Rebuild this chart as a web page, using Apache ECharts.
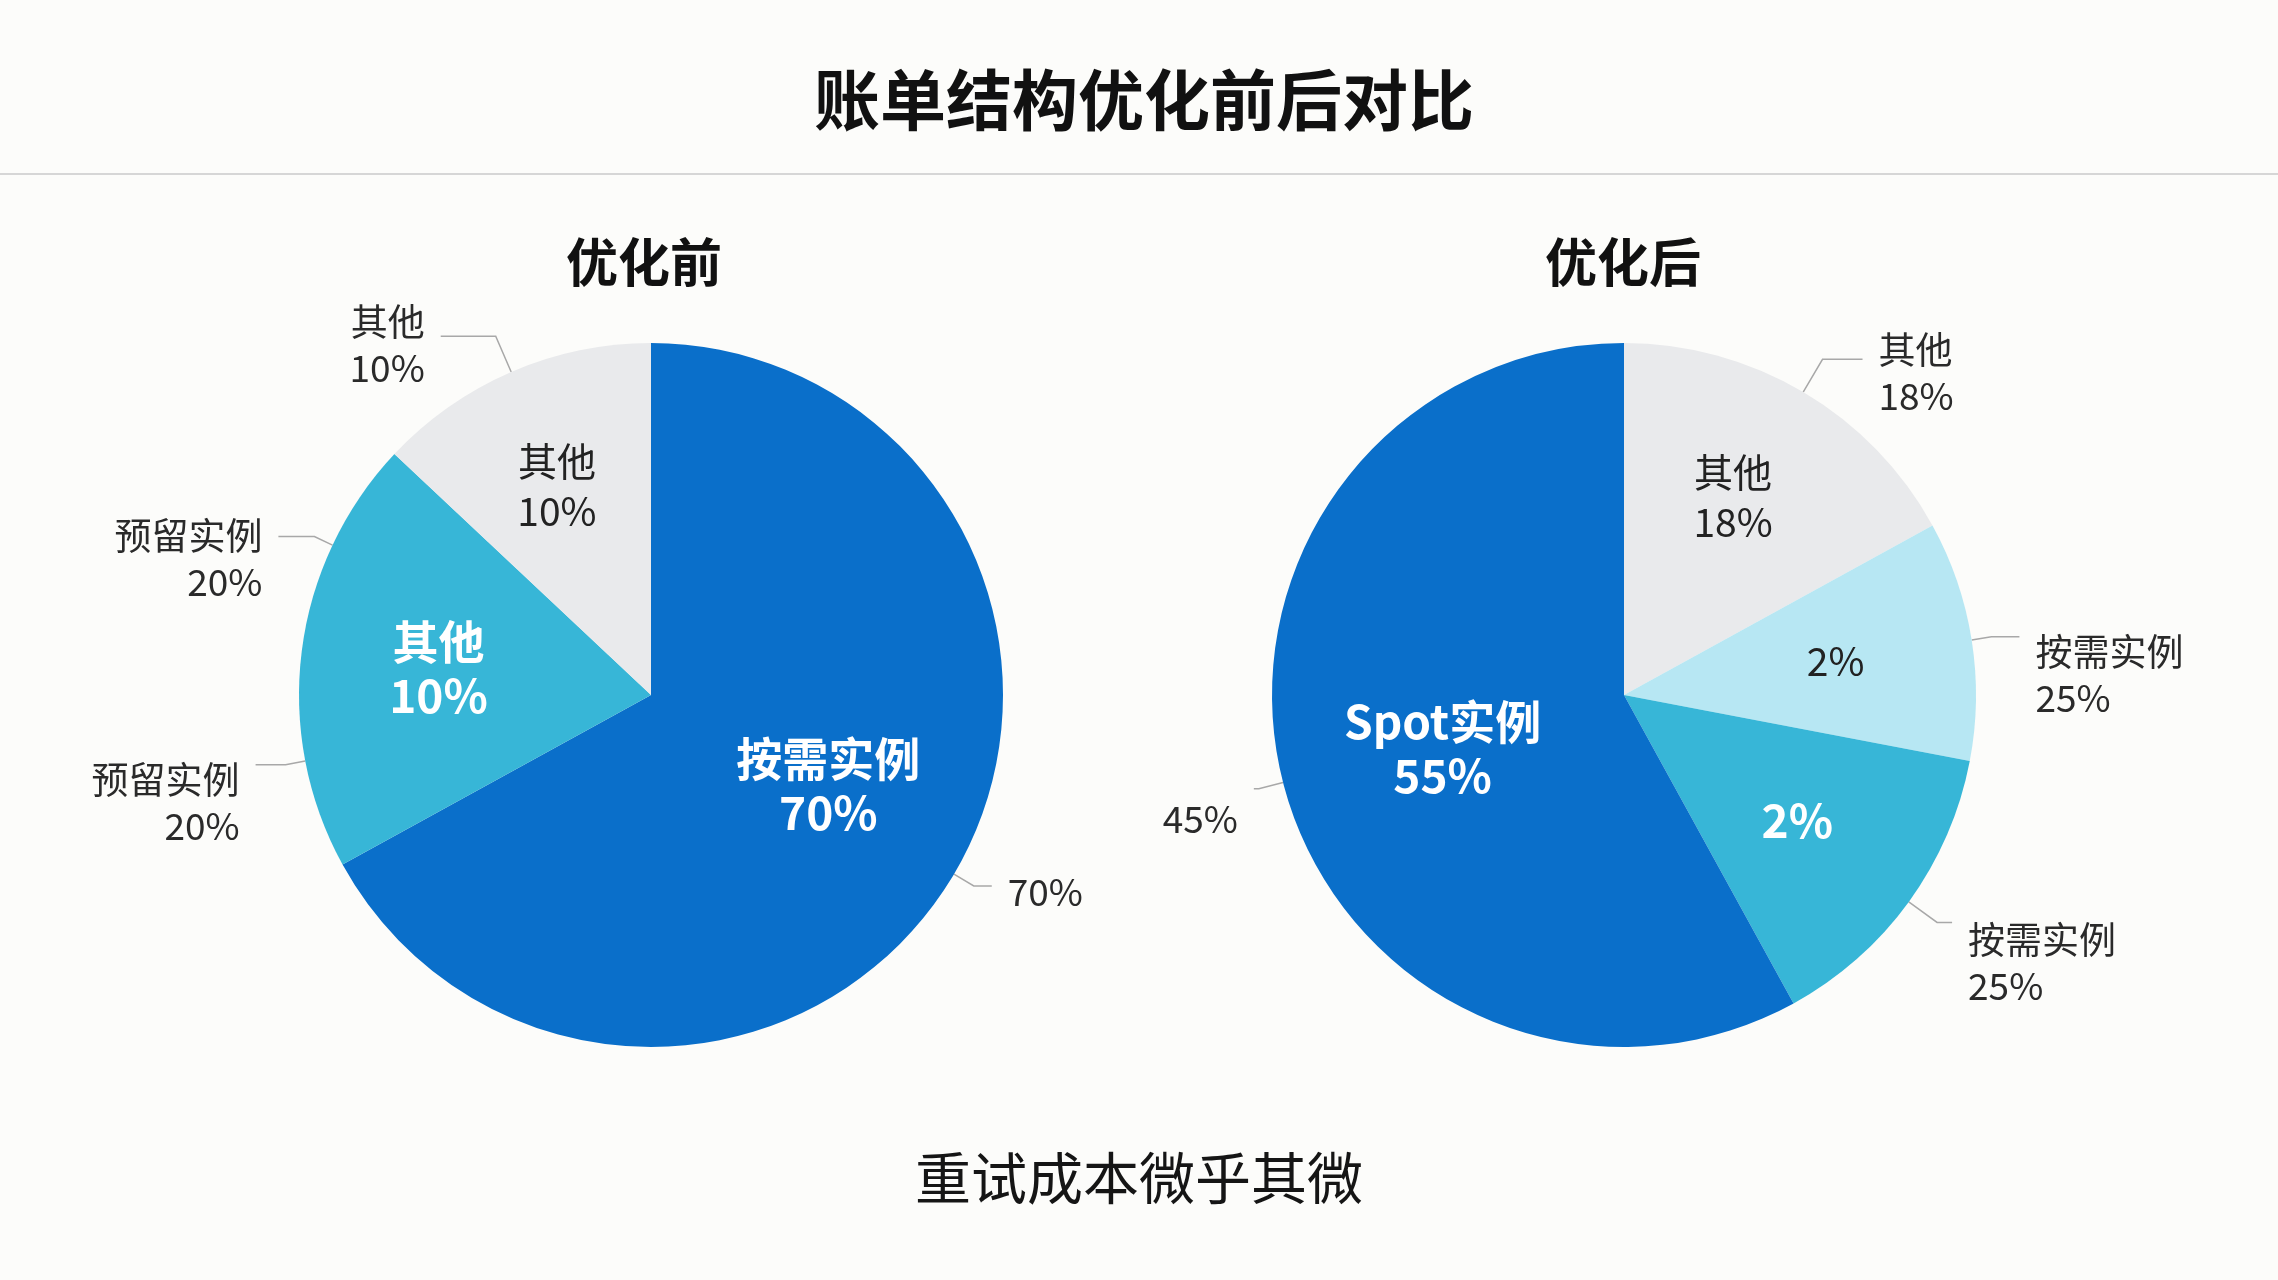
<!DOCTYPE html>
<html><head><meta charset="utf-8">
<script src="https://cdn.jsdelivr.net/npm/echarts@6/dist/echarts.min.js"></script>
<style>html,body{margin:0;padding:0;background:#fcfcfa}#c{width:2278px;height:1280px}</style>
</head><body><div id="c"></div>
<script>
const titleText = '账单结构优化前后对比';
const footerText = '重试成本微乎其微';
const pieTitles = ['优化前', '优化后'];

// 优化前 — slices clockwise from 12 o'clock
const beforeNames = ['按需实例', '预留实例', '其他'];
const beforeValues = [67, 20, 13];
const beforeColors = ['#0a6fca', '#37b6d7', '#e9eaec'];
const beforeInnerLabels = ['按需实例\n70%', '其他\n10%', '其他\n10%'];
const beforeInnerDark = [false, false, true];
// callouts: the 预留实例 slice carries two callouts (split in halves for anchoring)
const beforeOuterLabels = ['70%', '预留实例\n20%', '预留实例\n20%', '其他\n10%'];

// 优化后 — slices clockwise from 12 o'clock
const afterNames = ['其他', '按需实例', '按需实例', 'Spot实例'];
const afterValues = [17, 11, 14, 58];
const afterColors = ['#e9eaec', '#b7e7f3', '#37b6d7', '#0a6fca'];
const afterInnerLabels = ['其他\n18%', '2%', '2%', 'Spot实例\n55%'];
const afterInnerDark = [true, true, false, false];
const afterOuterLabels = ['其他\n18%', '按需实例\n25%', '按需实例\n25%', '45%'];

// ---- styling (not data) ----
const FONT = '"Noto Sans CJK SC", "Noto Sans", sans-serif';
const R = 352;
const centers = [[651, 695], [1624, 695]];
// inner label tweaks: [horizontal padding right, horizontal padding left, bottom spacer]
const beforeInnerPad = [[14, 0, 38], [0, 0, 0], [18, 0, 24]];
const afterInnerPad = [[0, 0, 26], [0, 0, 0], [0, 0, 0], [0, 52, 0]];
// callout line lengths [length, length2, top spacer]
const beforeCallout = [[23, 18, 12], [20, 30, 76], [20, 36, 44], [39, 55, 18]];
const afterCallout = [[38, 40, 28], [20, 28, 76], [35, 15, 80], [25, 5, 60]];

function spacerRich(h) { return { g: { fontSize: 2, lineHeight: Math.max(h, 1) } }; }

function baseSeries(center, names, values, colors) {
  return {
    type: 'pie', center, radius: [0, R], startAngle: 90, clockwise: true,
    silent: true, label: { show: false }, labelLine: { show: false },
    data: values.map((v, i) => ({ name: names[i], value: v, itemStyle: { color: colors[i] } }))
  };
}
function innerSeries(center, names, values, labels, dark, pads) {
  return {
    type: 'pie', center, radius: [R * 0.2, R], startAngle: 90, clockwise: true,
    silent: true, labelLine: { show: false },
    itemStyle: { color: 'rgba(0,0,0,0)' },
    data: values.map((v, i) => ({
      name: names[i], value: v,
      label: {
        show: true, position: 'inside',
        formatter: pads[i][2] > 0 ? labels[i] + '\n{g| }' : labels[i],
        rich: spacerRich(pads[i][2]),
        padding: [0, pads[i][0], 0, pads[i][1]],
        color: dark[i] ? '#222' : '#fff', fontWeight: dark[i] ? 'normal' : 'bold',
        fontSize: dark[i] ? 39 : 46, lineHeight: dark[i] ? 50 : 54, fontFamily: FONT
      }
    }))
  };
}
function outerSeries(center, values, labels, callout) {
  return {
    type: 'pie', center, radius: [0, R], startAngle: 90, clockwise: true,
    silent: true, avoidLabelOverlap: false,
    itemStyle: { color: 'rgba(0,0,0,0)' },
    label: {
      show: true, position: 'outside', color: '#2a2a2a', fontSize: 37, lineHeight: 46,
      fontFamily: FONT, distanceToLabelLine: 16
    },
    labelLine: { show: true, length: 30, length2: 30, lineStyle: { color: '#a8a8a8', width: 1.5 } },
    data: values.map((v, i) => ({
      value: v,
      label: { formatter: '{g| }\n' + labels[i], rich: spacerRich(callout[i][2]) },
      labelLine: { length: callout[i][0], length2: callout[i][1] }
    }))
  };
}

const beforeOuterValues = [beforeValues[0], beforeValues[1] / 2, beforeValues[1] / 2, beforeValues[2]];

const chart = echarts.init(document.getElementById('c'));
chart.setOption({
  backgroundColor: '#fcfcfa',
  animation: false,
  title: [
    { text: titleText, left: 1139, top: 62, textAlign: 'center',
      textStyle: { fontSize: 66, fontWeight: 'bold', color: '#111', fontFamily: FONT } },
    { text: pieTitles[0], left: 639, top: 231, textAlign: 'center',
      textStyle: { fontSize: 52, fontWeight: 'bold', color: '#111', fontFamily: FONT } },
    { text: pieTitles[1], left: 1618, top: 231, textAlign: 'center',
      textStyle: { fontSize: 52, fontWeight: 'bold', color: '#111', fontFamily: FONT } },
    { text: footerText, left: 1134, top: 1145, textAlign: 'center',
      textStyle: { fontSize: 56, fontWeight: 'normal', color: '#151515', fontFamily: FONT } }
  ],
  graphic: [
    { type: 'line', shape: { x1: 0, y1: 174, x2: 2278, y2: 174 }, style: { stroke: '#d6d6d6', lineWidth: 2 } }
  ],
  series: [
    baseSeries(centers[0], beforeNames, beforeValues, beforeColors),
    innerSeries(centers[0], beforeNames, beforeValues, beforeInnerLabels, beforeInnerDark, beforeInnerPad),
    outerSeries(centers[0], beforeOuterValues, beforeOuterLabels, beforeCallout),
    baseSeries(centers[1], afterNames, afterValues, afterColors),
    innerSeries(centers[1], afterNames, afterValues, afterInnerLabels, afterInnerDark, afterInnerPad),
    outerSeries(centers[1], afterValues, afterOuterLabels, afterCallout)
  ]
});
</script></body></html>
